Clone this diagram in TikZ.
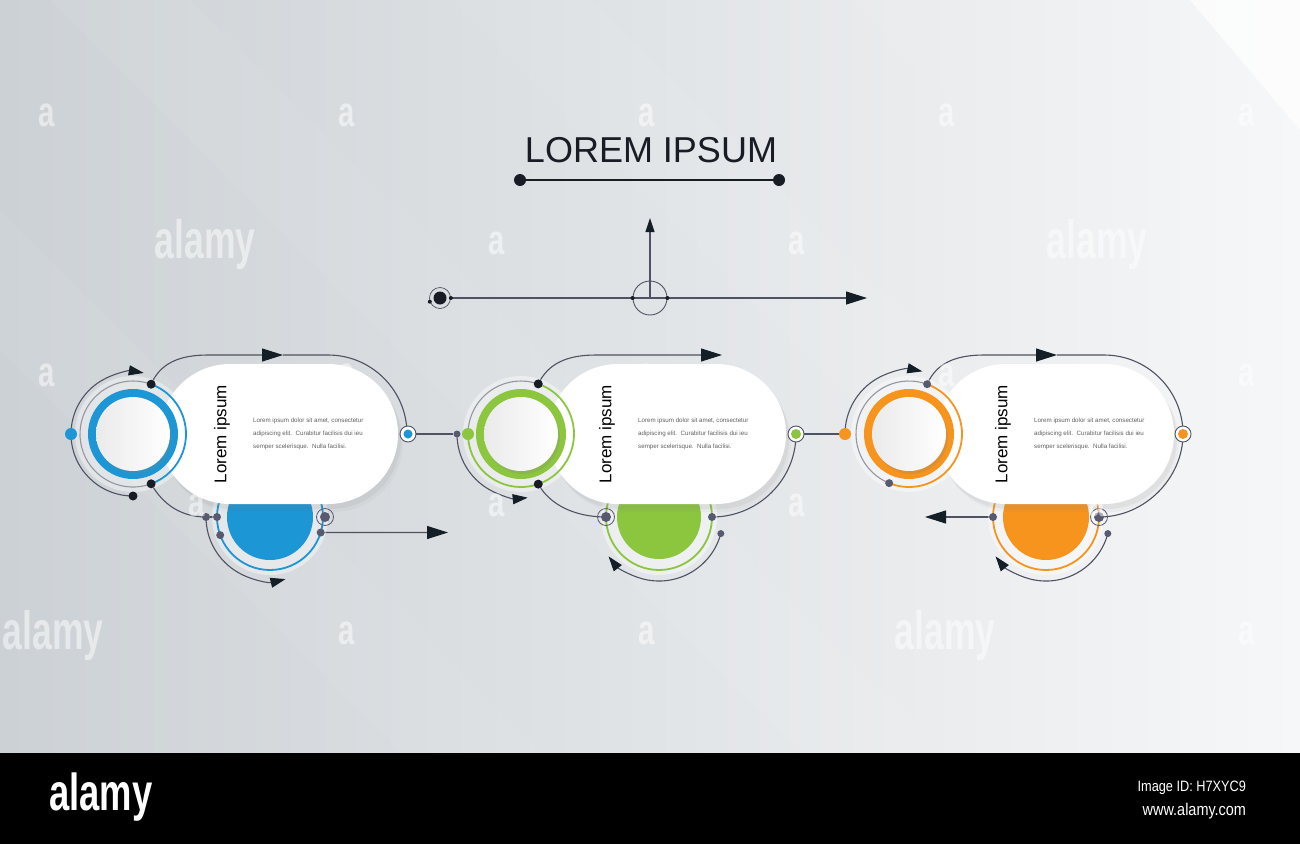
\documentclass[tikz,border=0pt]{standalone}
\usepackage{fontspec}
\setmainfont{Liberation Sans}
\usepackage{xcolor}
\usepackage{tikz}
\usetikzlibrary{calc, arrows.meta, shadows, positioning}

\pgfdeclarelayer{bg}
\pgfdeclarelayer{back}
\pgfsetlayers{bg,back,main}

\definecolor{bluec}{RGB}{28,150,212}
\definecolor{greenc}{RGB}{140,198,63}
\definecolor{orangec}{RGB}{247,148,30}
\definecolor{linec}{RGB}{78,82,98}
\definecolor{darkc}{RGB}{24,28,36}
\definecolor{slatec}{RGB}{88,90,112}
\definecolor{arrc}{RGB}{20,30,38}
\definecolor{bgl}{RGB}{204,209,213}
\definecolor{bgr}{RGB}{246,247,248}

\begin{document}
\begin{tikzpicture}[x=1pt, y=-1pt,
    wire/.style={draw=linec, line width=1.1pt},
    thinring/.style={line width=1.8pt},
    bigtip/.style={-{Triangle[length=21pt, width=13pt, color=arrc]}},
    arctip/.style={-{Triangle[length=15pt, width=10pt, color=arrc]}},
    dot/.style={circle, fill=darkc, inner sep=0pt, minimum size=9pt},
    sdot/.style={circle, fill=slatec, inner sep=0pt, minimum size=8pt},
    cdot/.style={circle, fill=#1, inner sep=0pt, minimum size=12pt},
    port/.style={circle, draw=linec, fill=white, line width=.9pt, inner sep=0pt, minimum size=16pt},
    twin/.style={circle, draw=slatec, line width=.8pt, inner sep=0pt, minimum size=17pt},
    track/.style={white, opacity=.4},
    ball/.style={left color=gray!16, right color=white,
        drop shadow={shadow xshift=2pt, shadow yshift=-3pt, opacity=.22}},
    pill/.style={fill=white, rounded corners=70pt, minimum width=238pt, minimum height=140pt, inner sep=0pt,
        drop shadow={shadow xshift=5pt, shadow yshift=-8pt, opacity=.06},
        drop shadow={shadow xshift=3pt, shadow yshift=-5pt, opacity=.1}},
    head/.style={rotate=90, font=\fontsize{17}{20}\selectfont},
    para/.style={anchor=west, align=left, text=gray!75!black, inner sep=0pt, font=\fontsize{6.2}{13}\selectfont},
    wm/.style={text=white, opacity=.5, xscale=.7, font=\bfseries\fontsize{42}{42}\selectfont}
]
    \useasboundingbox (0,0) rectangle (1300,844);

    % 1. Nền
    \begin{pgfonlayer}{bg}
        \shade[left color=bgl, right color=bgr] (0,0) rectangle (1300,753);
        \begin{scope}
            \clip (0,0) rectangle (1300,753);
            \foreach \s in {-350,50,450,850} {
                \fill[white, opacity=.05] (\s,0) -- ++(140,0) -- ++(753,753) -- ++(-140,0) -- cycle;
            }
            \fill[white, opacity=.7] (1190,0) -- (1300,0) -- (1300,130) -- cycle;
        \end{scope}
        \fill[black] (0,753) rectangle (1300,844);
    \end{pgfonlayer}

    % 2. Tiêu đề và trục
    \node[text=darkc, font=\fontsize{36}{40}\selectfont] (title) at (651,150) {LOREM IPSUM};
    \node[dot, minimum size=12pt] (ul) at (520,180) {};
    \node[dot, minimum size=12pt] (ur) at (779,180) {};
    \draw[darkc, line width=2.2pt] (ul) -- (ur);
    \node[circle, draw=linec, line width=.9pt, minimum size=34pt, inner sep=0pt] (hub) at (650,298) {};
    \node[dot, minimum size=13pt] (src) at (440,298) {};
    \node[circle, draw=linec, line width=.7pt, minimum size=21pt, inner sep=0pt] (srcr) at (src) {};
    \coordinate (goal) at (867,298);
    \coordinate (up) at (650,218);
    \draw[wire, bigtip] (srcr.east) -- (goal);
    \draw[wire, -{Triangle[length=14pt, width=9pt, color=arrc]}] (hub.center) -- (up);
    \node[dot, minimum size=4pt] (hw) at (hub.west) {};
    \node[dot, minimum size=4pt] (he) at (hub.east) {};
    \node[dot, minimum size=4pt] (se) at (srcr.east) {};
    \node[dot, minimum size=4pt] (ssw) at (srcr.200) {};

    % 3. Khối 1 (xanh dương)
    \coordinate (b1) at (270,517);
    \coordinate (c1) at (133,434);
    \fill[track] (b1) circle[radius=58];
    \fill[bluec] (b1) circle[radius=43];
    \draw[bluec, thinring] (b1) circle[radius=53];
    \node[pill] (pill1) at (279,434) {};
    \node[head] (h1) at (222,434) {Lorem ipsum};
    \node[para] (t1) at (253,434) {Lorem ipsum dolor sit amet, consectetur\\adipiscing elit.\ \ Curabitur facilisis dui ieu\\semper scelerisque.\ \ Nulla facilisi.};
    \fill[track] (c1) circle[radius=58];
    \fill[bluec] (c1) circle[radius=45];
    \shade[ball] (c1) circle[radius=37];
    \draw[bluec, thinring] (c1) ++(-70:53) arc[start angle=-70, end angle=70, radius=53];
    \node[dot] (c1t) at ($(c1)+(-70:53)$) {};
    \node[dot] (c1b) at ($(c1)+(70:53)$) {};
    \node[dot] (c1d) at ($(c1)+(90:62)$) {};
    \node[cdot=bluec] (c1l) at ($(c1)+(180:62)$) {};
    \node[port] (p1) at (408,434) {};
    \node[cdot=bluec, minimum size=9pt] (p1i) at (p1) {};
    \node[sdot] (b1o) at ($(b1)+(180:64)$) {};
    \node[sdot] (b1l) at ($(b1)+(180:53)$) {};
    \node[sdot] (b1s) at ($(b1)+(160:53)$) {};
    \node[sdot] (b1r) at ($(b1)+(17:53)$) {};
    \node[sdot, minimum size=10pt] (b1p) at ($(b1)+(0:55)$) {};
    \node[twin] (b1pr) at (b1p) {};
    \coordinate (a1) at (283,355);
    \coordinate (b1end) at (448,532.5);

    % 4. Khối 2 (xanh lá)
    \coordinate (b2) at (659,517);
    \coordinate (c2) at (521,434);
    \fill[track] (b2) circle[radius=58];
    \fill[greenc] (b2) circle[radius=42];
    \draw[greenc, thinring] (b2) circle[radius=53];
    \node[pill] (pill2) at (667,434) {};
    \node[head] (h2) at (607,434) {Lorem ipsum};
    \node[para] (t2) at (638,434) {Lorem ipsum dolor sit amet, consectetur\\adipiscing elit.\ \ Curabitur facilisis dui ieu\\semper scelerisque.\ \ Nulla facilisi.};
    \fill[track] (c2) circle[radius=58];
    \fill[greenc] (c2) circle[radius=45];
    \shade[ball] (c2) circle[radius=37];
    \draw[greenc, thinring] (c2) ++(-71:53) arc[start angle=-71, end angle=180, radius=53];
    \node[dot] (c2t) at ($(c2)+(-71:53)$) {};
    \node[dot] (c2b) at ($(c2)+(71:53)$) {};
    \node[sdot, minimum size=7pt] (c2o) at ($(c2)+(180:64)$) {};
    \node[cdot=greenc] (c2l) at ($(c2)+(180:53)$) {};
    \node[port] (p2) at (796,434) {};
    \node[cdot=greenc, minimum size=10pt] (p2i) at (p2) {};
    \node[sdot] (b2r) at ($(b2)+(0:53)$) {};
    \node[sdot, minimum size=10pt] (b2p) at ($(b2)+(180:53)$) {};
    \node[twin] (b2pr) at (b2p) {};
    \node[sdot, minimum size=7pt] (b2s) at ($(b2)+(15:64)$) {};
    \coordinate (a2) at (722,355);

    % 5. Khối 3 (cam)
    \coordinate (b3) at (1046,517);
    \coordinate (c3) at (909,434);
    \fill[track] (b3) circle[radius=58];
    \fill[orangec] (b3) circle[radius=43];
    \draw[orangec, thinring] (b3) circle[radius=53];
    \node[pill] (pill3) at (1055,434) {};
    \node[head] (h3) at (1003,434) {Lorem ipsum};
    \node[para] (t3) at (1034,434) {Lorem ipsum dolor sit amet, consectetur\\adipiscing elit.\ \ Curabitur facilisis dui ieu\\semper scelerisque.\ \ Nulla facilisi.};
    \fill[track] (c3) circle[radius=58];
    \fill[orangec] (c3) circle[radius=45];
    \shade[ball] (c3) circle[radius=37];
    \draw[orangec, thinring] (c3) ++(-70:53) arc[start angle=-70, end angle=112, radius=53];
    \node[sdot] (c3t) at ($(c3)+(-70:53)$) {};
    \node[sdot] (c3b) at ($(c3)+(112:53)$) {};
    \node[cdot=orangec] (c3l) at ($(c3)+(180:64)$) {};
    \node[port] (p3) at (1183,434) {};
    \node[cdot=orangec, minimum size=10pt] (p3i) at (p3) {};
    \node[sdot] (b3l) at ($(b3)+(180:53)$) {};
    \node[sdot, minimum size=10pt] (b3p) at ($(b3)+(0:53)$) {};
    \node[twin] (b3pr) at (b3p) {};
    \node[sdot, minimum size=7pt] (b3s) at ($(b3)+(15:64)$) {};
    \coordinate (a3) at (1057,355);
    \coordinate (b3end) at (925,517);

    % 6. Đường nối
    \begin{pgfonlayer}{back}
        \draw[wire] (c1) ++(70:53) arc[start angle=70, end angle=290, radius=53];
        \draw[wire, arctip] (c1d.center) arc[start angle=90, end angle=280, radius=62];
        \draw[wire, bigtip] (c1t.center) .. controls (160,364) and (178,355) .. (208,355) -- (a1);
        \draw[wire] (a1) -- (328,355) arc[start angle=-90, end angle=0, radius=79];
        \draw[wire] (c1b.center) .. controls (163,505) and (182,517) .. (b1o.center);
        \draw[wire] (b1o) -- (b1l);
        \draw[wire, arctip] (b1o.center) arc[start angle=180, end angle=76, radius=64];
        \draw[wire, bigtip] (b1r.center) -- (b1end);
        \draw[wire] (p1) -- (c2o);

        \draw[wire] (c2) ++(180:53) arc[start angle=180, end angle=289, radius=53];
        \draw[wire, arctip] (c2o.center) arc[start angle=180, end angle=84, radius=64];
        \draw[wire, bigtip] (c2t.center) .. controls (548,364) and (566,355) .. (596,355) -- (a2);
        \draw[wire] (p2.center) .. controls (796,480) and (758,517) .. (b2r.center);
        \draw[wire] (c2b.center) .. controls (550,505) and (575,517) .. (b2p.center);
        \draw[wire, arctip] (b2s.center) arc[start angle=15, end angle=142, radius=64];
        \draw[wire] (p2) -- (c3l);

        \draw[wire] (c3) ++(112:53) arc[start angle=112, end angle=290, radius=53];
        \draw[wire, arctip] (c3l.center) arc[start angle=180, end angle=282, radius=64];
        \draw[wire, bigtip] (c3t.center) .. controls (936,364) and (954,355) .. (984,355) -- (a3);
        \draw[wire] (a3) -- (1104,355) arc[start angle=-90, end angle=0, radius=79]
            .. controls (1183,478) and (1145,517) .. (b3p.center);
        \draw[wire, bigtip] (b3l.center) -- (b3end);
        \draw[wire, arctip] (b3s.center) arc[start angle=15, end angle=142, radius=64];
    \end{pgfonlayer}

    % 7. Dấu nước
    \foreach \x/\y [count=\i] in {47/115, 347/115, 647/115, 947/115, 1247/115, 497/243, 797/243,
        47/375, 347/375, 647/375, 947/375, 1247/375, 197/505, 497/505, 797/505, 1097/505,
        347/633, 647/633, 1247/633} {
        \node[wm] (wa\i) at (\x,\y) {a};
    }
    \foreach \x/\y [count=\i] in {205/245, 1097/245, 53/636, 945/636} {
        \node[wm, xscale=.94, font=\bfseries\fontsize{54}{54}\selectfont] (wb\i) at (\x,\y) {alamy};
    }
    \node[text=white, xscale=.7, font=\bfseries\fontsize{52}{52}\selectfont] (logo) at (101,797) {alamy};
    \node[anchor=east, text=white, xscale=.85, font=\fontsize{15}{15}\selectfont] (imgid) at (1249,788) {Image ID: H7XYC9};
    \node[anchor=east, text=white, xscale=.85, font=\fontsize{17}{17}\selectfont] (site) at (1249,811) {www.alamy.com};
\end{tikzpicture}
\end{document}
